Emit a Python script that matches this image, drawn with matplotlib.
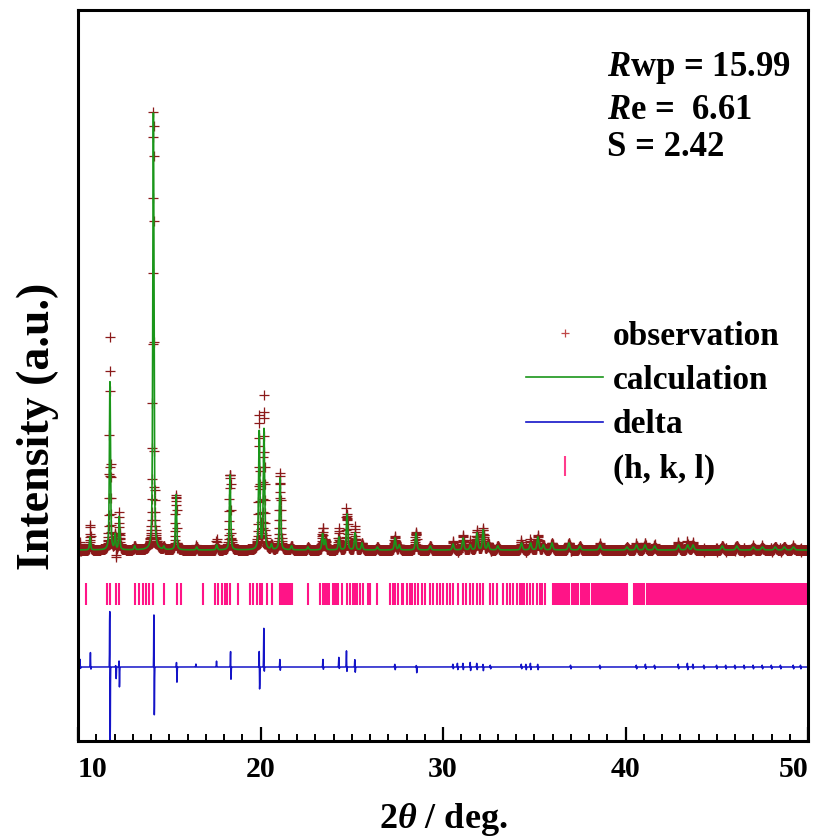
import numpy as np
import matplotlib.pyplot as plt
from matplotlib.lines import Line2D
from matplotlib.ticker import MultipleLocator

plt.rcParams['font.family'] = ['Liberation Serif', 'DejaVu Serif']
plt.rcParams['font.weight'] = 'bold'
plt.rcParams['axes.labelweight'] = 'bold'
plt.rcParams['mathtext.fontset'] = 'custom'
plt.rcParams['mathtext.rm'] = 'Liberation Serif:bold'
plt.rcParams['mathtext.it'] = 'Liberation Serif:italic:bold'
plt.rcParams['mathtext.bf'] = 'Liberation Serif:bold'

# scan range, 0.01 deg step
two_theta = np.arange(10.0, 50.0 + 1e-9, 0.01)
background = 191.0

# refined reflections: position (deg) and calculated height (a.u.)
peak_pos = np.array([10.66, 11.75, 12.03, 12.26, 13.10, 14.13, 14.70, 15.37, 16.50, 17.60,
                     18.33, 19.93, 20.19, 20.60, 21.07, 21.70, 22.60, 23.40, 23.55, 24.30,
                     24.74, 25.18, 25.56, 26.40, 27.37, 27.60, 28.52, 29.30, 30.55, 31.10,
                     31.50, 31.86, 32.20, 32.47, 33.00, 34.30, 34.80, 35.20, 35.50, 35.97,
                     36.90, 37.50, 38.60, 40.08, 40.60, 41.07, 41.60, 42.90, 43.40, 43.70,
                     45.30, 46.10, 47.00, 47.50, 48.20, 48.70, 49.20])
peak_height = np.array([13, 168, 15, 33, 4, 437, 3, 55, 3, 5,
                        75, 118, 120, 5, 72, 4, 3, 16, 10, 13,
                        36, 17, 7, 3, 12, 5, 17, 4, 6, 12,
                        5, 17, 20, 7, 4, 7, 7, 13, 5, 7,
                        7, 4, 5, 3, 5, 5, 4, 5, 5, 5,
                        4, 4, 3, 3, 3, 3, 3])

# misfit around each reflection: position, positive and negative lobe
resid_pos = np.array([10.12, 10.69, 11.75, 12.08, 12.26, 14.17, 15.41, 16.47, 17.60, 18.37,
                      19.94, 20.19, 21.07, 23.43, 24.30, 24.72, 25.18, 27.37, 28.55, 30.55,
                      30.80, 31.10, 31.50, 31.86, 32.20, 32.60, 34.30, 34.55, 34.80, 35.20,
                      37.00, 38.60, 40.60, 41.10, 41.60, 42.90, 43.40, 43.70, 44.30, 45.00,
                      45.50, 46.00, 46.50, 47.00, 47.50, 48.00, 48.50, 49.20, 49.60])
resid_up = np.array([8, 15, 64, 2, 8, 58, 6, 3, 6, 17,
                     18, 40, 8, 8, 10, 17, 8, 3, 2, 3,
                     4, 4, 5, 4, 3, 2, 3, 3, 4, 3,
                     2, 2, 2, 3, 2, 3, 4, 3, 2, 2,
                     2, 2, 2, 2, 2, 2, 2, 2, 2])
resid_down = np.array([2, 3, 82, 12, 21, 54, 16, 0, 0, 14,
                       24, 6, 4, 3, 2, 6, 6, 3, 6, 2,
                       3, 3, 4, 3, 4, 2, 2, 3, 3, 3,
                       2, 2, 2, 2, 2, 2, 3, 2, 2, 2,
                       2, 2, 2, 2, 2, 2, 2, 2, 2])

# Bragg reflection positions
hkl_pos = [10.44, 11.61, 11.75, 12.08, 12.27, 13.12, 13.36, 13.54, 13.73, 13.91,
           14.09, 14.73, 15.41, 15.63, 16.83, 17.51, 17.69, 17.87, 18.05, 18.18,
           18.33, 18.79, 19.42, 19.61, 19.79, 19.97, 20.06, 20.34, 20.61, 21.07,
           21.16, 21.25, 21.34, 21.43, 21.52, 21.62, 21.71, 22.62, 23.26, 23.41,
           23.53, 23.62, 23.72, 23.77, 23.99, 24.08, 24.17, 24.27, 24.45, 24.72,
           24.90, 25.05, 25.18, 25.27, 25.45, 25.64, 25.91, 26.00, 26.37, 27.10,
           27.24, 27.37, 27.55, 27.74, 27.82, 28.01, 28.19, 28.28, 28.47, 28.65,
           28.83, 29.01, 29.29, 29.47, 29.65, 29.84, 30.02, 30.20, 30.38, 30.56,
           30.84, 31.10, 31.26, 31.48, 31.66, 31.84, 32.03, 32.21, 32.58, 32.76,
           32.94, 33.30, 33.49, 33.67, 33.85, 34.04, 34.20, 34.31, 34.45, 34.58,
           34.77, 34.95, 35.13, 35.30, 35.45, 35.60, 36.05, 36.14, 36.22, 36.35,
           36.44, 36.52, 36.63, 36.75, 36.83, 36.92, 37.04, 37.13, 37.21, 37.33,
           37.42, 37.55, 37.63, 37.72, 37.84, 37.93, 38.02, 38.15, 38.24, 38.33,
           38.45, 38.53, 38.66, 38.74, 38.85, 38.94, 39.06, 39.15, 39.24, 39.36,
           39.45, 39.53, 39.66, 39.74, 39.85, 39.97, 40.06, 40.45, 40.53, 40.64,
           40.73, 40.85, 40.94, 41.03, 41.15, 41.24, 41.36, 41.44, 41.55, 41.63,
           41.75, 41.86, 41.94, 42.05, 42.16, 42.24, 42.35, 42.46, 42.55, 42.63,
           42.76, 42.84, 42.95, 43.06, 43.14, 43.26, 43.35, 43.44, 43.56, 43.65,
           43.73, 43.85, 43.96, 44.04, 44.15, 44.26, 44.34, 44.45, 44.56, 44.64,
           44.75, 44.86, 44.94, 45.05, 45.16, 45.24, 45.35, 45.46, 45.54, 45.66,
           45.75, 45.84, 45.95, 46.06, 46.14, 46.25, 46.36, 46.44, 46.55, 46.66,
           46.74, 46.85, 46.96, 47.04, 47.15, 47.26, 47.34, 47.45, 47.56, 47.64,
           47.75, 47.86, 47.94, 48.05, 48.16, 48.24, 48.35, 48.46, 48.54, 48.65,
           48.76, 48.84, 48.95, 49.06, 49.14, 49.25, 49.36, 49.44, 49.55, 49.66,
           49.74, 49.85, 49.96]

x_ticks = [10, 20, 30, 40, 50]

delta_offset = 74.0
hkl_bottom, hkl_top = 136.0, 158.0


def pseudo_voigt(x, pos, height, fwhm, eta=0.5):
    g = np.exp(-4 * np.log(2) * (x - pos) ** 2 / fwhm ** 2)
    l = 1.0 / (1.0 + 4 * (x - pos) ** 2 / fwhm ** 2)
    return height * (eta * l + (1 - eta) * g)


calc = np.full_like(two_theta, background)
for p, h in zip(peak_pos, peak_height):
    calc += pseudo_voigt(two_theta, p, h, 0.07 + 0.0015 * (p - 10))

resid = np.zeros_like(two_theta)
for p, up, dn in zip(resid_pos, resid_up, resid_down):
    resid += up * np.exp(-0.5 * ((two_theta - (p - 0.012)) / 0.01) ** 2)
    resid -= dn * np.exp(-0.5 * ((two_theta - (p + 0.012)) / 0.01) ** 2)

obs = calc + resid
delta = delta_offset + resid

fig = plt.figure(figsize=(8.23, 8.39), dpi=100)
ax = fig.add_axes([0.0948, 0.1168, 0.887, 0.8712])

ax.plot(two_theta, obs, linestyle='none', marker='+', markersize=7,
        markeredgewidth=0.9, color='#8b1a1a')
ax.plot(two_theta, calc, color='#1a961a', lw=1.2)
ax.plot(two_theta, delta, color='#1414c8', lw=1.1)
ax.vlines(hkl_pos, hkl_bottom, hkl_top, color='#ff1487', lw=1.5)

ax.set_yticks([])
ax.set_xticks(x_ticks)
ax.xaxis.set_minor_locator(MultipleLocator(1))
ax.set_xlim(10, 50)
ax.set_ylim(0, 731)
ax.tick_params(axis='x', which='major', direction='in', length=10, width=1.6,
               labelsize=21.5, pad=11)
ax.tick_params(axis='x', which='minor', direction='in', length=5, width=1.4)
for s in ax.spines.values():
    s.set_linewidth(2.2)

# keep the end labels inside the frame
xlabels = ax.get_xticklabels()
xlabels[0].set_horizontalalignment('left')
xlabels[-1].set_horizontalalignment('right')

ax.set_xlabel(r'2$\theta$ / deg.', fontsize=26, labelpad=13)
ax.set_ylabel('Intensity (a.u.)', fontsize=33)
ax.yaxis.set_label_coords(-0.026, 0.43)

handles = [
    Line2D([], [], linestyle='none', marker='+', markersize=6, markeredgewidth=0.9,
           color='#c04848'),
    Line2D([], [], color='#1a961a', lw=1.2),
    Line2D([], [], color='#1414c8', lw=1.2),
    Line2D([], [], linestyle='none', marker='|', markersize=14, markeredgewidth=1.5,
           color='#ff3c8c'),
]
ax.legend(handles, ['observation', 'calculation', 'delta', '(h, k, l)'],
          loc='center left', bbox_to_anchor=(0.603, 0.52),
          bbox_transform=fig.transFigure, frameon=False, fontsize=24,
          handlelength=2.3, handletextpad=0.3, labelspacing=0.4)

fig.text(0.737, 0.909, r'$R$wp = 15.99', fontsize=25, fontweight='bold')
fig.text(0.737, 0.858, r'$R$e =  6.61', fontsize=25, fontweight='bold')
fig.text(0.737, 0.814, 'S = 2.42', fontsize=25, fontweight='bold')

fig.savefig('out.png', dpi=100)
